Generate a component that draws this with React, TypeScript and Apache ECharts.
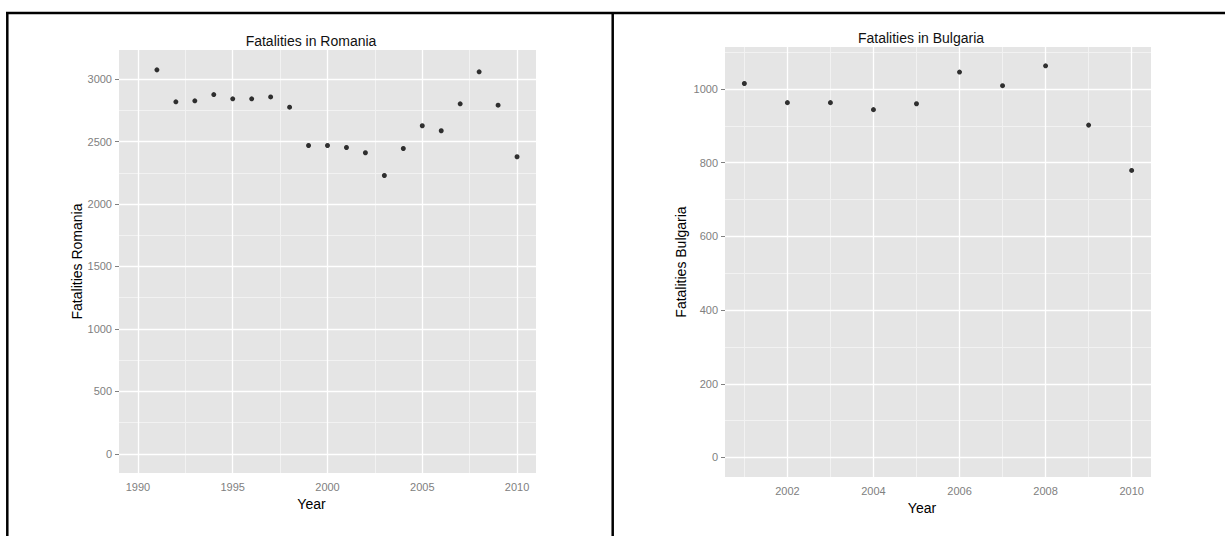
import React, { useEffect, useRef } from "react";
import * as echarts from "echarts";

const romaniaYears = [1991, 1992, 1993, 1994, 1995, 1996, 1997, 1998, 1999, 2000, 2001, 2002, 2003, 2004, 2005, 2006, 2007, 2008, 2009, 2010];
const romaniaFatalities = [3075, 2819, 2827, 2877, 2843, 2843, 2858, 2776, 2469, 2469, 2453, 2411, 2229, 2445, 2627, 2587, 2803, 3059, 2792, 2379];

const bulgariaYears = [2001, 2002, 2003, 2004, 2005, 2006, 2007, 2008, 2009, 2010];
const bulgariaFatalities = [1015, 963, 963, 944, 960, 1046, 1009, 1063, 902, 779];

const romaniaXTicks = [1990, 1995, 2000, 2005, 2010];
const romaniaXMinor = [1992.5, 1997.5, 2002.5, 2007.5];
const romaniaYTicks = [0, 500, 1000, 1500, 2000, 2500, 3000];
const romaniaYMinor = [250, 750, 1250, 1750, 2250, 2750];

const bulgariaXTicks = [2002, 2004, 2006, 2008, 2010];
const bulgariaXMinor = [2001, 2003, 2005, 2007, 2009];
const bulgariaYTicks = [0, 200, 400, 600, 800, 1000];
const bulgariaYMinor = [100, 300, 500, 700, 900, 1100];

const FONT = "'Liberation Sans', Arial, sans-serif";
const TICK_COLOR = "#808080";

function gridLines(xMajor: number[], xMinor: number[], yMajor: number[], yMinor: number[]) {
  const major = { color: "#ffffff", width: 1.3, type: "solid" };
  const minor = { color: "#f2f2f2", width: 1, type: "solid" };
  return [
    ...xMinor.map((v) => ({ xAxis: v, lineStyle: minor })),
    ...yMinor.map((v) => ({ yAxis: v, lineStyle: minor })),
    ...xMajor.map((v) => ({ xAxis: v, lineStyle: major })),
    ...yMajor.map((v) => ({ yAxis: v, lineStyle: major })),
  ];
}

const plain = (v: number) => String(v);

function xAxisCfg(gridIndex: number, min: number, max: number, ticks: number[], gap: number) {
  return {
    type: "value",
    gridIndex,
    min,
    max,
    name: "Year",
    nameLocation: "middle",
    nameGap: gap,
    nameTextStyle: { color: "#000", fontSize: 14, fontFamily: FONT, padding: [0, 32, 0, 0] },
    axisLine: { show: false },
    axisTick: { show: true, length: 4, customValues: ticks, lineStyle: { color: TICK_COLOR, width: 1 } },
    axisLabel: { customValues: ticks, formatter: plain, color: TICK_COLOR, fontSize: 11, fontFamily: FONT, margin: 8 },
    splitLine: { show: false },
  };
}

function yAxisCfg(gridIndex: number, min: number, max: number, ticks: number[], name: string, gap: number) {
  return {
    type: "value",
    gridIndex,
    min,
    max,
    name,
    nameLocation: "middle",
    nameRotate: 90,
    nameGap: gap,
    nameTextStyle: { color: "#000", fontSize: 14, fontFamily: FONT },
    axisLine: { show: false },
    axisTick: { show: true, length: 4, customValues: ticks, lineStyle: { color: TICK_COLOR, width: 1 } },
    axisLabel: { customValues: ticks, formatter: plain, color: TICK_COLOR, fontSize: 11, fontFamily: FONT, margin: 7 },
    splitLine: { show: false },
  };
}

export default function App() {
  const ref = useRef<HTMLDivElement>(null);

  useEffect(() => {
    if (!ref.current) return;
    const chart = echarts.init(ref.current, null, { renderer: "svg" });
    const option = {
      animation: false,
      backgroundColor: "#ffffff",
      title: [
        {
          text: "Fatalities in Romania",
          left: 311,
          top: 34,
          padding: 0,
          textAlign: "center",
          textStyle: { color: "#111", fontSize: 14, fontWeight: "normal", fontFamily: FONT },
        },
        {
          text: "Fatalities in Bulgaria",
          left: 921,
          top: 31,
          padding: 0,
          textAlign: "center",
          textStyle: { color: "#111", fontSize: 14, fontWeight: "normal", fontFamily: FONT },
        },
      ],
      grid: [
        { left: 119, top: 50, width: 417, height: 423, show: true, backgroundColor: "#e5e5e5", borderWidth: 0 },
        { left: 725, top: 47, width: 426, height: 430, show: true, backgroundColor: "#e5e5e5", borderWidth: 0 },
      ],
      xAxis: [
        xAxisCfg(0, 1989, 2011, romaniaXTicks, 20),
        xAxisCfg(1, 2000.55, 2010.45, bulgariaXTicks, 21),
      ],
      yAxis: [
        yAxisCfg(0, -154, 3234, romaniaYTicks, "Fatalities Romania", 31),
        yAxisCfg(1, -53, 1114, bulgariaYTicks, "Fatalities Bulgaria", 37),
      ],
      graphic: [
        { type: "line", shape: { x1: 6, y1: 13, x2: 1225, y2: 13 }, style: { stroke: "#000", lineWidth: 2.5 } },
        { type: "line", shape: { x1: 7.3, y1: 12, x2: 7.3, y2: 536 }, style: { stroke: "#000", lineWidth: 2.5 } },
        { type: "line", shape: { x1: 612.7, y1: 12, x2: 612.7, y2: 536 }, style: { stroke: "#000", lineWidth: 2.5 } },
      ],
      series: [
        {
          type: "scatter",
          xAxisIndex: 0,
          yAxisIndex: 0,
          symbolSize: 5,
          itemStyle: { color: "#000" },
          data: romaniaYears.map((y, i) => [y, romaniaFatalities[i]]),
          markLine: {
            silent: true,
            z: 1,
            symbol: ["none", "none"],
            label: { show: false },
            emphasis: { disabled: true },
            data: gridLines(romaniaXTicks, romaniaXMinor, romaniaYTicks, romaniaYMinor),
          },
        },
        {
          type: "scatter",
          xAxisIndex: 1,
          yAxisIndex: 1,
          symbolSize: 5,
          itemStyle: { color: "#000" },
          data: bulgariaYears.map((y, i) => [y, bulgariaFatalities[i]]),
          markLine: {
            silent: true,
            z: 1,
            symbol: ["none", "none"],
            label: { show: false },
            emphasis: { disabled: true },
            data: gridLines(bulgariaXTicks, bulgariaXMinor, bulgariaYTicks, bulgariaYMinor),
          },
        },
      ],
    };
    chart.setOption(option as any);
    return () => chart.dispose();
  }, []);

  return (
    <div
      ref={ref}
      style={{ position: "absolute", left: 0, top: 0, width: 1225, height: 536, background: "#fff" }}
    />
  );
}
